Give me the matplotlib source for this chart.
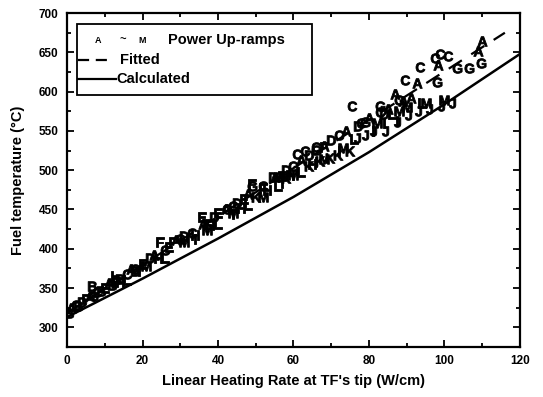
import matplotlib
matplotlib.use("Agg")
import matplotlib.pyplot as plt
from matplotlib.patches import Rectangle
from matplotlib.ticker import MultipleLocator

plt.rcParams['font.family'] = ['Liberation Sans', 'DejaVu Sans']
plt.rcParams['font.weight'] = 'bold'
plt.rcParams['axes.labelweight'] = 'bold'
plt.rcParams['mathtext.fontset'] = 'custom'
plt.rcParams['mathtext.bf'] = 'Liberation Sans:bold'
plt.rcParams['mathtext.default'] = 'bf'

# power up-ramp measurements, one series per ramp (A ~ M)
A_x = [1, 6, 11, 17, 23, 29, 36, 42, 48, 55, 62, 68, 74, 80, 85, 87, 89, 91, 92.7, 98.3, 108.9, 110]
A_y = [325, 340, 356, 374, 392, 411, 432, 451, 470, 491, 513, 531, 550, 566, 578, 597, 588, 592, 611, 634, 652, 665]
B_x = [0.5, 3, 6.7, 9, 12, 14, 18]
B_y = [318, 327, 353, 346, 354, 361, 372]
C_x = [2.5, 8, 16, 26, 33, 44, 52, 61, 63, 66, 72, 75.5, 78, 83, 89.5, 93.5, 97.5, 98.8, 101]
C_y = [328, 345, 368, 398, 420, 454, 480, 521, 524, 530, 545, 582, 560, 574, 615, 632, 643, 648, 646]
D_x = [4, 13, 22, 31, 39, 45, 54.6, 58, 64, 70, 77, 84]
D_y = [332, 360, 388, 416, 440, 458, 492, 500, 520, 538, 556, 572]
E_x = [10, 20, 27, 35.7, 40, 47, 57]
E_y = [350, 380, 402, 440, 445, 463, 493]
F_x = [5, 13, 24.6, 28, 37, 49, 52, 68]
F_y = [336, 358, 408, 408, 432, 482, 478, 530]
G_x = [7, 18, 30, 42.4, 49, 56, 60, 66, 79, 83, 88, 98, 103.3, 106.5, 109.7]
G_y = [340, 374, 413, 451, 480, 492, 506, 526, 562, 582, 590, 612, 630, 630, 636]
H_x = [14, 24, 34, 38, 46, 53, 59, 65]
H_y = [358, 388, 418, 430, 452, 475, 494, 508]
I_x = [12, 19, 34, 44, 57, 66, 72, 81, 84, 87.4]
I_y = [365, 372, 412, 444, 484, 510, 525, 550, 560, 563]
J_x = [76.8, 79, 81, 84.2, 87.4, 90.3, 93, 96, 99, 102]
J_y = [541, 545, 550, 550, 561, 570, 575, 578, 582, 586]
K_x = [50, 58, 64, 67, 69.7, 71.8, 75]
K_y = [466, 490, 506, 512, 516, 519, 525]
L_x = [16, 26, 40, 48, 56, 62, 76, 86, 94]
L_y = [360, 388, 432, 456, 480, 498, 540, 572, 586]
M_x = [21, 31, 37, 44, 52, 60, 68, 73, 82, 88, 90, 95, 100]
M_y = [378, 408, 424, 446, 466, 494, 514, 528, 560, 575, 580, 586, 590]

series = {
    'A': (A_x, A_y), 'B': (B_x, B_y), 'C': (C_x, C_y), 'D': (D_x, D_y),
    'E': (E_x, E_y), 'F': (F_x, F_y), 'G': (G_x, G_y), 'H': (H_x, H_y),
    'I': (I_x, I_y), 'J': (J_x, J_y), 'K': (K_x, K_y), 'L': (L_x, L_y),
    'M': (M_x, M_y),
}

# fitted line (dashed) and calculated curve (solid)
fit_x = [0, 116]
fit_y = [318, 675]
calc_x = [0, 20, 40, 60, 80, 100, 120]
calc_y = [313, 362, 413, 466, 523, 584, 648]

x_ticks = [0, 20, 40, 60, 80, 100, 120]
y_ticks = [300, 350, 400, 450, 500, 550, 600, 650, 700]

fig = plt.figure(figsize=(5.43, 3.97), dpi=100)
ax = fig.add_axes([0.1234, 0.126, 0.8342, 0.841])

ax.plot(fit_x, fit_y, color='black', lw=1.6, ls=(0, (7, 5)), zorder=2)
ax.plot(calc_x, calc_y, color='black', lw=1.8, zorder=2)

for name, (xs, ys) in series.items():
    ax.plot(xs, ys, ls='none', marker=f'${name}$', ms=7, mew=0.6,
            color='black', zorder=3)

ax.set_xlim(0, 120)
ax.set_ylim(275, 700)
ax.set_xticks(x_ticks)
ax.set_xticklabels([str(t) for t in x_ticks], fontweight='bold', fontsize=8.5)
ax.set_yticks(y_ticks)
ax.set_yticklabels([str(t) for t in y_ticks], fontweight='bold', fontsize=8.5)
ax.xaxis.set_minor_locator(MultipleLocator(10))
ax.yaxis.set_minor_locator(MultipleLocator(25))
ax.tick_params(which='both', direction='in', top=True, right=True, width=1.3, pad=6)
ax.tick_params(which='major', length=5)
ax.tick_params(which='minor', length=3)
for sp in ax.spines.values():
    sp.set_linewidth(1.6)

ax.set_xlabel("Linear Heating Rate at TF's tip (W/cm)", fontsize=10.5,
              fontweight='bold', labelpad=5)
ax.set_ylabel("Fuel temperature (°C)", fontsize=10.5, fontweight='bold',
              labelpad=10)

# legend drawn by hand
ax.add_patch(Rectangle((0.022, 0.754), 0.519, 0.213, transform=ax.transAxes,
                       fill=False, lw=1.3, color='black', zorder=4))
ax.text(0.068, 0.919, 'A', transform=ax.transAxes, fontsize=6.5,
        ha='center', va='center')
ax.text(0.124, 0.919, '~', transform=ax.transAxes, fontsize=8,
        ha='center', va='center')
ax.text(0.166, 0.919, 'M', transform=ax.transAxes, fontsize=6.5,
        ha='center', va='center')
ax.text(0.223, 0.919, 'Power Up-ramps', transform=ax.transAxes, fontsize=10.5,
        va='center')
ax.plot([0.024, 0.095], [0.859, 0.859], transform=ax.transAxes, color='black',
        lw=1.6, ls=(0, (5, 3)))
ax.text(0.117, 0.859, 'Fitted', transform=ax.transAxes, fontsize=10.5, va='center')
ax.plot([0.024, 0.108], [0.802, 0.802], transform=ax.transAxes, color='black', lw=1.6)
ax.text(0.11, 0.802, 'Calculated', transform=ax.transAxes, fontsize=10.5, va='center')

fig.savefig('out.png', dpi=100)
